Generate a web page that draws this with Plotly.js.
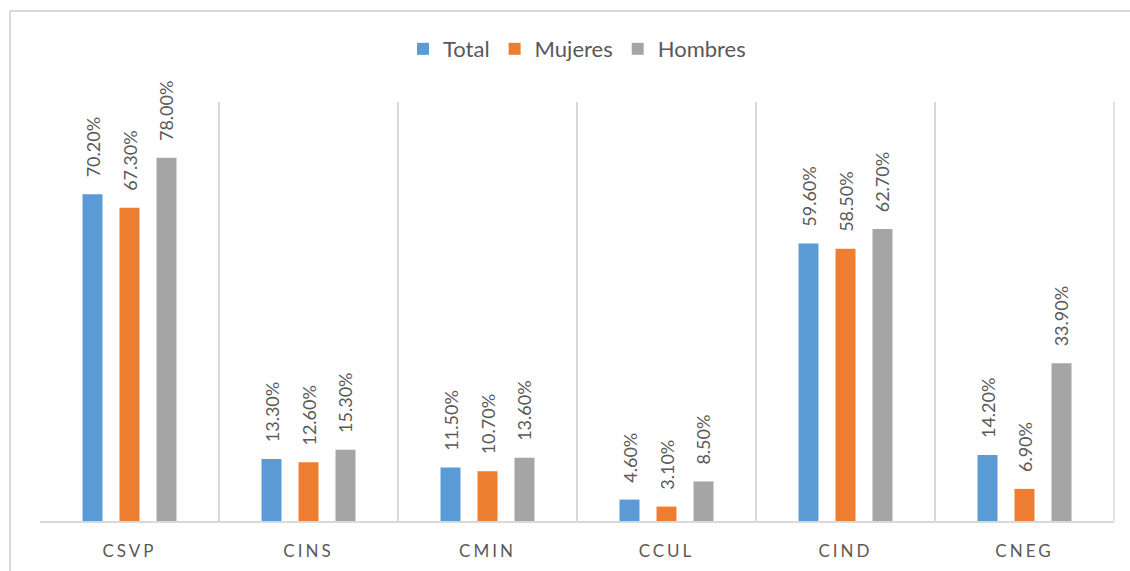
<!DOCTYPE html>
<html>
<head>
<meta charset="utf-8">
<script src="https://cdn.plot.ly/plotly-3.0.1.min.js"></script>
<style>
html,body{margin:0;padding:0;background:#fff;}
#chart{width:1130px;height:571px;}
.xtick text{letter-spacing:3px;}
</style>
</head>
<body>
<div id="chart"></div>
<script>
const categories = ["CSVP", "CINS", "CMIN", "CCUL", "CIND", "CNEG"];
const totalValues = [70.2, 13.3, 11.5, 4.6, 59.6, 14.2];
const mujeresValues = [67.3, 12.6, 10.7, 3.1, 58.5, 6.9];
const hombresValues = [78.0, 15.3, 13.6, 8.5, 62.7, 33.9];
const seriesNames = ["Total", "Mujeres", "Hombres"];
const seriesColors = ["#5b9bd5", "#ed7d31", "#a5a5a5"];

const seriesValues = [totalValues, mujeresValues, hombresValues];
const labelPad = "\u00a0\u00a0\u00a0";
const traces = seriesValues.map((vals, i) => ({
  type: "bar",
  name: seriesNames[i],
  x: categories,
  y: vals,
  marker: {color: seriesColors[i]},
  text: vals.map(v => labelPad + v.toFixed(2) + "%"),
  textposition: "outside",
  textangle: -90,
  constraintext: "none",
  cliponaxis: false,
  textfont: {family: "Lato, sans-serif", size: 18, color: "#595959"},
  hoverinfo: "skip"
}));

const layout = {
  width: 1130,
  height: 571,
  margin: {l: 40, r: 16, t: 102, b: 50},
  paper_bgcolor: "#ffffff",
  plot_bgcolor: "#ffffff",
  barmode: "group",
  bargap: 0.38,
  bargroupgap: 0.46,
  font: {family: "Lato, sans-serif", color: "#595959"},
  showlegend: true,
  legend: {
    orientation: "h",
    x: 0.5, xanchor: "center",
    y: 1.1265, yanchor: "middle",
    font: {size: 22, color: "#595959"},
    itemwidth: 30,
    traceorder: "normal"
  },
  xaxis: {
    type: "category",
    tickson: "boundaries",
    showgrid: true,
    gridcolor: "#d9d9d9",
    gridwidth: 1.5,
    showline: true,
    linecolor: "#d9d9d9",
    linewidth: 2,
    ticks: "",
    ticklabelstandoff: 14,
    tickfont: {size: 17, color: "#595959"},
    fixedrange: true
  },
  yaxis: {
    range: [0, 90],
    visible: false,
    showgrid: false,
    zeroline: false,
    fixedrange: true
  },
  shapes: [
    {type: "line", xref: "paper", yref: "paper", x0: -0.0279, x1: 1.02, y0: 1.2172, y1: 1.2172, line: {color: "#d9d9d9", width: 2}},
    {type: "line", xref: "paper", yref: "paper", x0: -0.0279, x1: -0.0279, y0: 1.2172, y1: -0.125, line: {color: "#d9d9d9", width: 2}},
    {type: "line", xref: "paper", yref: "paper", x0: 1, x1: 1, y0: 0, y1: 1, line: {color: "#d9d9d9", width: 1.5}}
  ]
};

Plotly.newPlot("chart", traces, layout, {displayModeBar: false, staticPlot: true});
</script>
</body>
</html>
